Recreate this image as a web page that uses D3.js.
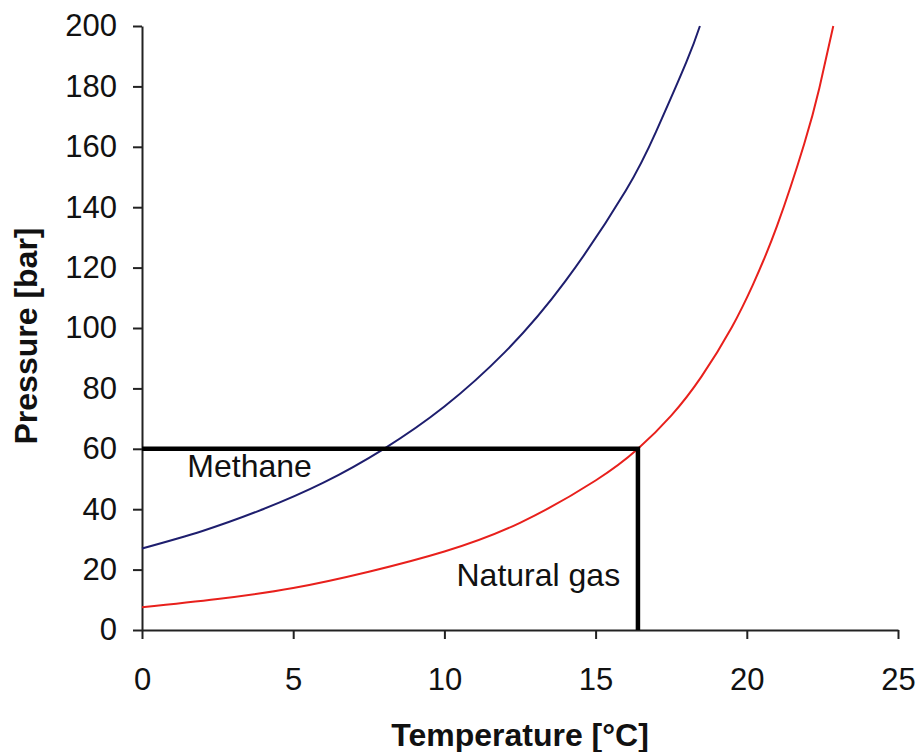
<!DOCTYPE html>
<html>
<head>
<meta charset="utf-8">
<script src="https://cdn.jsdelivr.net/npm/d3@7"></script>
<style>
  body { margin: 0; background: #fff; }
  text { font-family: "Liberation Sans", Arial, sans-serif; }
</style>
</head>
<body>
<div id="chart"></div>
<script>
// data

var methaneTemp = [0, 2, 4, 6, 8, 10, 12, 14, 16, 17, 18, 18.45];
var methanePressure = [27, 32.8, 40, 48.8, 60, 74, 92, 115.5, 145.5, 165, 188, 200];

var gasTemp = [0, 2.5, 5, 7.5, 10, 12.5, 15, 16.4, 17.5, 18.5, 19.5, 20.2, 21, 21.9, 22.4, 22.86];
var gasPressure = [7.5, 10.25, 13.9, 19.3, 26, 35.5, 49.5, 60, 71, 83.9, 100.2, 114.3, 133.8, 161, 179.5, 200];

var xTicks = [0, 5, 10, 15, 20, 25];
var yTicks = [0, 20, 40, 60, 80, 100, 120, 140, 160, 180, 200];

var refTemp = 16.4,
	refPressure = 60;

//constants

var width = 919,
	height = 752,
	margin = {top: 26, right: 21, bottom: 122, left: 142};

var svg = d3.select('#chart')
	.append('svg')
	.attr('width', width)
	.attr('height', height);

var x = d3.scaleLinear().domain([0, 25]).range([margin.left, width - margin.right]);
var y = d3.scaleLinear().domain([0, 200]).range([height - margin.bottom, margin.top]);

// axes
var xAxis = svg.append('g')
	.attr('transform', 'translate(0,' + y(0) + ')')
	.call(d3.axisBottom(x).tickValues(xTicks).tickSize(9).tickPadding(29).tickSizeOuter(0));

var yAxis = svg.append('g')
	.attr('transform', 'translate(' + x(0) + ',0)')
	.call(d3.axisLeft(y).tickValues(yTicks).tickSize(9).tickPadding(16).tickSizeOuter(0));

[xAxis, yAxis].forEach(function(g){
	g.selectAll('path, line').attr('stroke', '#222').attr('stroke-width', 2);
	g.selectAll('text').attr('font-size', 31).attr('fill', '#111')
		.style('font-family', '"Liberation Sans", Arial, sans-serif');
});

// curves
var line = d3.line()
	.x(function(d){ return x(d[0]); })
	.y(function(d){ return y(d[1]); })
	.curve(d3.curveNatural);

var methane = methaneTemp.map(function(t, i){ return [t, methanePressure[i]]; });
var gas = gasTemp.map(function(t, i){ return [t, gasPressure[i]]; });

svg.append('path')
	.datum(methane)
	.attr('fill', 'none')
	.attr('stroke', '#1e1e6e')
	.attr('stroke-width', 2)
	.attr('d', line);

svg.append('path')
	.datum(gas)
	.attr('fill', 'none')
	.attr('stroke', '#e8201c')
	.attr('stroke-width', 2)
	.attr('d', line);

// reference lines at 60 bar
svg.append('path')
	.attr('fill', 'none')
	.attr('stroke', '#000')
	.attr('stroke-width', 4.5)
	.attr('d', 'M' + x(0) + ',' + y(refPressure) + 'H' + x(refTemp) + 'V' + y(0));

// labels
svg.append('text')
	.attr('x', x(1.5))
	.attr('y', y(50.5))
	.attr('font-size', 32)
	.attr('fill', '#111')
	.text('Methane');

svg.append('text')
	.attr('x', x(10.4))
	.attr('y', y(14.5))
	.attr('font-size', 32)
	.attr('fill', '#111')
	.text('Natural gas');

// axis titles
svg.append('text')
	.attr('x', 520)
	.attr('y', 746)
	.attr('text-anchor', 'middle')
	.attr('font-size', 32)
	.attr('font-weight', 'bold')
	.attr('fill', '#111')
	.text('Temperature [°C]');

svg.append('text')
	.attr('transform', 'translate(37,336) rotate(-90)')
	.attr('text-anchor', 'middle')
	.attr('font-size', 32)
	.attr('font-weight', 'bold')
	.attr('fill', '#111')
	.text('Pressure [bar]');
</script>
</body>
</html>
